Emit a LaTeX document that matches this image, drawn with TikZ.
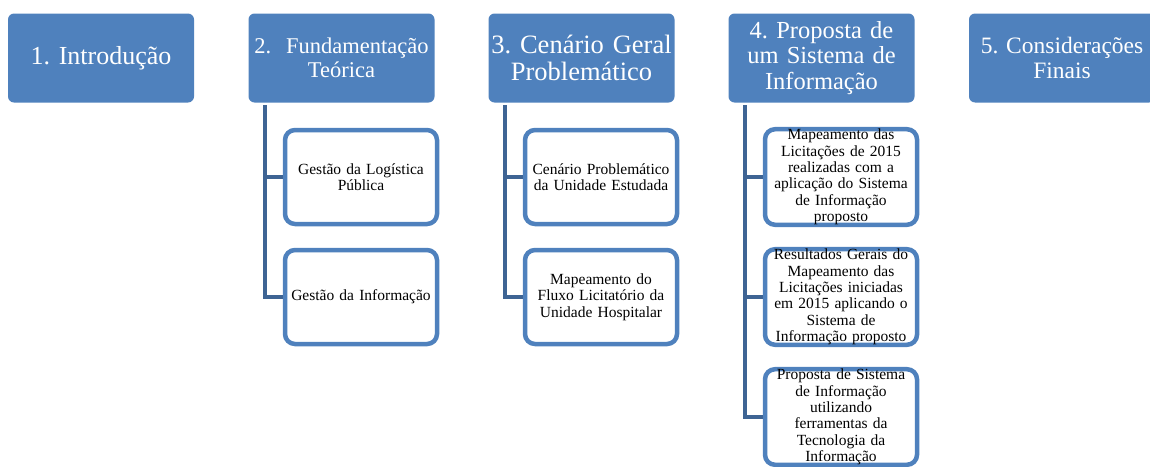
\documentclass[tikz,border=0pt]{standalone}
\usepackage{fontspec}
\setmainfont{Liberation Serif}
\frenchspacing
\definecolor{accent}{RGB}{79,129,189}
\definecolor{conn}{RGB}{62,100,148}
\tikzset{
  x=1pt, y=-1pt,
  topbox/.style={draw=none, fill=accent, rounded corners=6pt, minimum width=186pt, minimum height=89pt,
    text=white, align=center, inner sep=0pt, text width=186pt},
  subbox/.style={draw=accent, line width=4.5pt, fill=white, rounded corners=10pt, minimum width=152pt, minimum height=94pt,
    text=black, align=center, inner sep=0pt, text width=152pt, font=\fontsize{15.5}{16.3}\selectfont},
  conline/.style={draw=conn, line width=4.7pt, line join=miter}
}
\begin{document}
\begin{tikzpicture}
\useasboundingbox (0,0) rectangle (1150,466);
% top level
\node[topbox, font=\fontsize{26}{27}\selectfont] (t1) at (101,58) {1. Introdução};
\node[topbox, font=\fontsize{22.5}{24}\selectfont] (t2) at (341.5,58) {2.\ \ Fundamentação\\Teórica};
\node[topbox, font=\fontsize{26.5}{27}\selectfont] (t3) at (581.5,58) {3. Cenário Geral\\Problemático};
\node[topbox, font=\fontsize{24.5}{25.5}\selectfont] (t4) at (821.5,58) {4. Proposta de\\um Sistema de\\Informação};
\node[topbox, font=\fontsize{23.5}{25}\selectfont] (t5) at (1062,58) {5. Considerações\\Finais};
% sub boxes
\node[subbox] (s21) at (361,177) {Gestão da Logística\\Pública};
\node[subbox] (s22) at (361,297) {Gestão da Informação};
\node[subbox] (s31) at (601,177) {Cenário Problemático\\da Unidade Estudada};
\node[subbox] (s32) at (601,297) {Mapeamento do\\Fluxo Licitatório da\\Unidade Hospitalar};
\node[subbox] (s41) at (841,177) {Mapeamento das\\Licitações de 2015\\realizadas com a\\aplicação do Sistema\\de Informação\\proposto};
\node[subbox] (s42) at (841,297) {Resultados Gerais do\\Mapeamento das\\Licitações iniciadas\\em 2015 aplicando o\\Sistema de\\Informação proposto};
\node[subbox] (s43) at (841,417) {Proposta de Sistema\\de Informação\\utilizando\\ferramentas da\\Tecnologia da\\Informação};
% connectors
\coordinate (v2) at (265,105);
\coordinate (v3) at (505,105);
\coordinate (v4) at (745,105);
\draw[conline] (v2) |- (s21.west);
\draw[conline] (v2) |- (s22.west);
\draw[conline] (v3) |- (s31.west);
\draw[conline] (v3) |- (s32.west);
\draw[conline] (v4) |- (s41.west);
\draw[conline] (v4) |- (s42.west);
\draw[conline] (v4) |- (s43.west);
\end{tikzpicture}
\end{document}
